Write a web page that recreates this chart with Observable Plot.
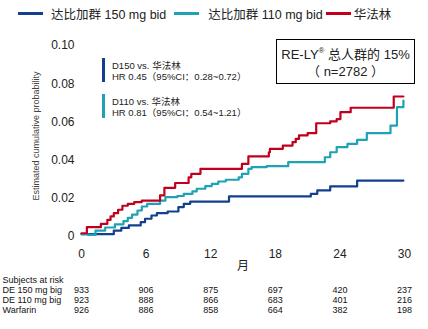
<!DOCTYPE html>
<html><head><meta charset="utf-8">
<script src="https://cdn.jsdelivr.net/npm/d3@7"></script>
<script src="https://cdn.jsdelivr.net/npm/@observablehq/plot@0.6"></script>
<style>
body{margin:0;background:#fff;font-family:"Liberation Sans",Arial,"Noto Sans CJK SC",sans-serif;}
#wrap{position:relative;width:428px;height:329px;overflow:hidden;}
#legend{position:absolute;left:18px;top:5px;height:16px;display:flex;align-items:center;font-size:12.5px;color:#222;white-space:nowrap;}
.sw{display:inline-block;width:25px;height:3px;}
#box{position:absolute;left:276px;top:39px;width:139px;height:45px;border:1px solid #000;box-sizing:border-box;text-align:center;font-size:13px;color:#222;line-height:17px;padding-top:6px;}
#box sup{font-size:8px;vertical-align:6px;line-height:0;}
.note{position:absolute;left:102px;display:flex;font-size:9.5px;color:#222;line-height:11px;white-space:nowrap;}
.note .bar{width:3px;margin-right:7px;}
.note .txt{padding-top:2px;}
</style></head>
<body>
<div id="wrap">
  <div id="chart"></div>
  <div id="legend"></div>
  <div id="box">RE-LY<sup>®</sup> 总人群的 15%<br>（ n=2782 ）</div>
  <div id="notes"></div>
</div>
<script>
// ---- data ----
const seriesNames = ["达比加群 150 mg bid", "达比加群 110 mg bid", "华法林"];
const seriesColors = ["#133f8e", "#1fa2b4", "#c2001d"];

const d150Month = [0, 3.0, 3.7, 4.4, 5.5, 5.9, 6.5, 7.0, 8.0, 9.0, 9.5, 10.1, 13.7, 21.3, 21.9, 23.1, 25.6, 29.9];
const d150Prob  = [0.0012, 0.0031, 0.0045, 0.0058, 0.0075, 0.0093, 0.011, 0.0122, 0.0131, 0.0154, 0.0171, 0.0183, 0.021, 0.0223, 0.0241, 0.0262, 0.0293, 0.0293];

const d110Month = [0, 0.6, 1.3, 2.2, 3.1, 3.9, 4.3, 4.7, 5.2, 5.6, 6.1, 7.3, 7.8, 8.9, 9.5, 10.3, 10.7, 11.5, 12.1, 12.7, 13.4, 14.6, 14.9, 15.5, 15.8, 17.2, 19.2, 22.6, 23.1, 23.7, 24.7, 25.6, 26.5, 28.7, 29.3, 29.9];
const d110Prob  = [0.0012, 0.0008, 0.0031, 0.0047, 0.0064, 0.0081, 0.0098, 0.0115, 0.0136, 0.0157, 0.0171, 0.0188, 0.0206, 0.0212, 0.0223, 0.0236, 0.025, 0.0264, 0.0276, 0.0288, 0.0297, 0.031, 0.0328, 0.0354, 0.0363, 0.0368, 0.0389, 0.0415, 0.0441, 0.0468, 0.0485, 0.0506, 0.0541, 0.0581, 0.0677, 0.0712];

const warfMonth = [0, 0.5, 1.8, 2.4, 2.7, 3.0, 3.4, 3.8, 4.3, 4.9, 5.6, 7.3, 7.7, 8.7, 9.95, 10.2, 11.05, 14.9, 15.5, 17.4, 17.5, 18.7, 19.6, 19.9, 20.2, 21.0, 21.8, 23.1, 23.7, 24.05, 25.0, 29.0, 29.9];
const warfProb  = [0.0017, 0.0049, 0.0066, 0.0087, 0.0105, 0.0122, 0.014, 0.0161, 0.0171, 0.018, 0.0188, 0.0215, 0.0255, 0.028, 0.031, 0.0328, 0.0354, 0.038, 0.0419, 0.0441, 0.0459, 0.0476, 0.0494, 0.0511, 0.0529, 0.0541, 0.0593, 0.0603, 0.0615, 0.0651, 0.0674, 0.0733, 0.0733];

const monthTicks = [0, 6, 12, 18, 24, 30];
const probTicks = [0, 0.02, 0.04, 0.06, 0.08, 0.10];

const riskLabels = ["DE 150 mg big", "DE 110 mg big", "Warfarin"];
const risk150 = [933, 906, 875, 697, 420, 237];
const risk110 = [923, 888, 866, 683, 401, 216];
const riskWarf = [926, 886, 858, 664, 382, 198];

const notes = [
  ["D150 vs. 华法林", "HR 0.45（95%CI：0.28~0.72）"],
  ["D110 vs. 华法林", "HR 0.81（95%CI：0.54~1.21）"]
];

// ---- build ----
const curves = [[d150Month, d150Prob], [d110Month, d110Prob], [warfMonth, warfProb]];
const rows = curves.flatMap(([ms, ps], k) => ms.map((m, i) => ({series: seriesNames[k], month: m, prob: ps[i]})));
const riskRows = [risk150, risk110, riskWarf];

const font = '"Liberation Sans", Arial, "Noto Sans CJK SC", sans-serif';
const marks = [
  Plot.axisY({ticks: probTicks, tickSize: 0, tickPadding: 7, fontSize: 12, label: null,
    tickFormat: d => d === 0 ? "0" : d.toFixed(2)}),
  Plot.axisX({ticks: monthTicks, tickSize: 0, tickPadding: 13, fontSize: 12, label: null}),
  Plot.text(["Estimated cumulative probability"], {frameAnchor: "left", textAnchor: "middle", rotate: -90, dx: -45, dy: -5, fontSize: 9, fill: "#444"}),
  Plot.text(["月"], {frameAnchor: "bottom", dy: 33, fontSize: 12, fill: "#222"}),
  Plot.line(rows, {x: "month", y: "prob", z: "series", stroke: "series", curve: "step-after", strokeWidth: 2.2}),
  Plot.text(["Subjects at risk"], {frameAnchor: "bottom-left", dx: -79, dy: 46, textAnchor: "start", fontSize: 9, fill: "#111"})
];
riskRows.forEach((r, k) => {
  marks.push(Plot.text([riskLabels[k]], {frameAnchor: "bottom-left", dx: -79, dy: 56 + 10 * k, textAnchor: "start", fontSize: 9, fill: "#111"}));
  marks.push(Plot.text(monthTicks.map((m, j) => ({month: m, n: r[j]})), {x: "month", text: "n", frameAnchor: "bottom", dy: 56 + 10 * k, fontSize: 9, fill: "#111"}));
});

const chart = Plot.plot({
  width: 428, height: 329,
  marginTop: 45, marginBottom: 93, marginLeft: 81, marginRight: 24,
  x: {domain: [0, 30]},
  y: {domain: [0, 0.1]},
  color: {domain: seriesNames, range: seriesColors},
  style: {fontFamily: font, color: "#222", background: "#fff"},
  marks
});
document.getElementById("chart").appendChild(chart);

// legend
const lg = document.getElementById("legend");
const gaps = [[0, 8], [8, 9], [3, 3]];
seriesNames.forEach((n, i) => {
  const sw = document.createElement("span");
  sw.className = "sw"; sw.style.background = seriesColors[i]; sw.style.marginLeft = gaps[i][0] + "px";
  const t = document.createElement("span");
  t.textContent = n; t.style.marginLeft = gaps[i][1] + "px";
  lg.appendChild(sw); lg.appendChild(t);
});

// HR notes
const nt = document.getElementById("notes");
notes.forEach((lines, i) => {
  const d = document.createElement("div");
  d.className = "note"; d.style.top = (58 + 36 * i) + "px";
  d.innerHTML = `<div class="bar" style="background:${seriesColors[i]}"></div><div class="txt">${lines[0]}<br>${lines[1]}</div>`;
  nt.appendChild(d);
});
</script>
</body></html>
